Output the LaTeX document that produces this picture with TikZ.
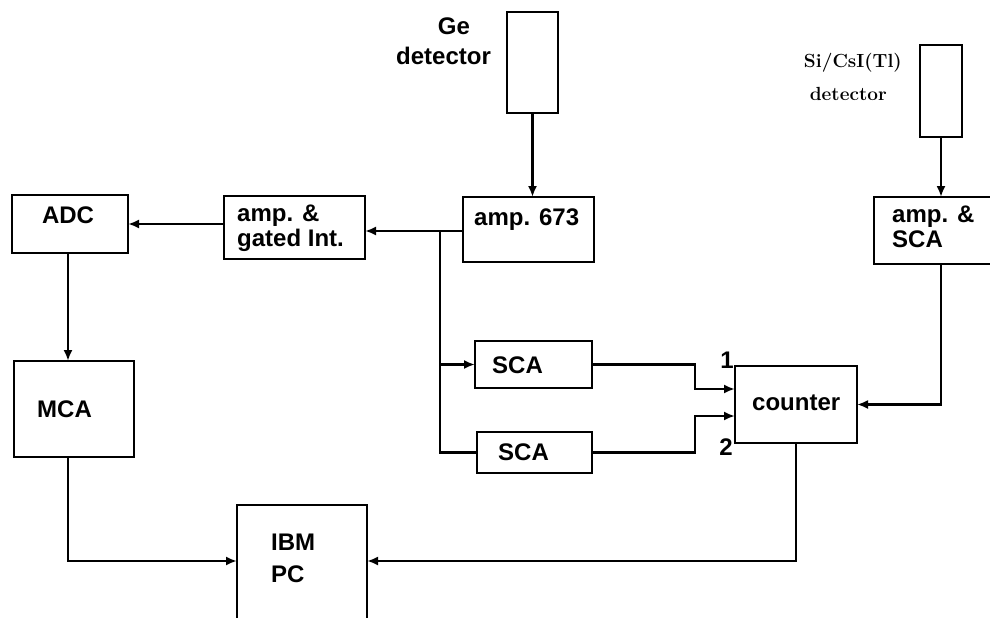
\documentclass[tikz,border=0pt]{standalone}
\usepackage{fontspec}
\newfontfamily\arialfont{Liberation Sans}
\usetikzlibrary{arrows.meta}
\tikzset{
  box/.style={draw, line width=2.2pt, inner sep=0pt, outer sep=0pt},
  arr/.style={line width=2.2pt, -{Latex[length=11pt,width=9pt]}},
  wire/.style={line width=2.2pt},
  lbl/.style={font=\arialfont\bfseries\fontsize{24}{26}\selectfont, inner sep=0pt},
  slbl/.style={font=\bfseries\fontsize{19}{22}\selectfont, inner sep=0pt}
}
\begin{document}
\begin{tikzpicture}[x=1pt,y=-1pt]
\useasboundingbox (0,0) rectangle (990,618);
% boxes
\node[box, minimum width=51pt, minimum height=101pt] (ge) at (532.5,62.5) {};
\node[box, minimum width=42pt, minimum height=92pt] (si) at (941,91) {};
\node[box, minimum width=131pt, minimum height=65pt] (amp673) at (528.5,229.5) {};
\node[box, minimum width=126pt, minimum height=67pt] (ampsca) at (937,230.5) {};
\node[box, minimum width=116pt, minimum height=58pt] (adc) at (70,224) {};
\node[box, minimum width=141pt, minimum height=63pt] (gated) at (294.5,227.5) {};
\node[box, minimum width=117pt, minimum height=47pt] (sca1) at (533.5,364.5) {};
\node[box, minimum width=115pt, minimum height=41pt] (sca2) at (534.5,452.5) {};
\node[box, minimum width=122pt, minimum height=77pt] (counter) at (796,404.5) {};
\node[box, minimum width=120pt, minimum height=96pt] (mca) at (74,409) {};
\node[box, minimum width=130pt, minimum height=135pt] (ibm) at (302,572.5) {};
% labels
\node[lbl, anchor=base] (geL1) at (454,35) {Ge};
\node[lbl, anchor=base] (geL2) at (443.5,65) {detector};
\node[slbl, anchor=base east] (siL1) at (902,67) {Si/CsI(Tl)};
\node[slbl, anchor=base east] (siL2) at (887,100) {detector};
\node[lbl, anchor=base] (adcL) at (68,223) {ADC};
\node[lbl, anchor=base west] (gL1) at (237,221) {amp. \&};
\node[lbl, anchor=base west] (gL2) at (237,246) {gated Int.};
\node[lbl, anchor=base west] (a673L) at (474,225) {amp. 673};
\node[lbl, anchor=base west] (asL1) at (892,222) {amp. \&};
\node[lbl, anchor=base west] (asL2) at (892,247) {SCA};
\node[lbl, anchor=base west] (s1L) at (492,373) {SCA};
\node[lbl, anchor=base west] (s2L) at (498,460) {SCA};
\node[lbl, anchor=base west] (cL) at (752,410) {counter};
\node[lbl, anchor=base west] (mL) at (37,417) {MCA};
\node[lbl, anchor=base west] (iL1) at (271,550) {IBM};
\node[lbl, anchor=base west] (iL2) at (271,582) {PC};
\node[lbl, anchor=base] (n1) at (727,368) {1};
\node[lbl, anchor=base] (n2) at (726,455) {2};
% connectors
\coordinate (br) at (440,231);
\coordinate (elb) at (695,0);
\coordinate (pcy) at (0,561);
\draw[arr] (ge.south) -- (ge.south |- amp673.north);
\draw[arr] (si.south) -- (si.south |- ampsca.north);
\draw[wire] (amp673.west |- br) -- (br);
\draw[arr] (br) -- (gated.east |- br);
\draw[wire] (br) |- (sca2.west);
\draw[arr] (br |- sca1.west) -- (sca1.west);
\draw[arr] (gated.west |- adc.east) -- (adc.east);
\draw[arr] ([xshift=-2pt]adc.south) -- ([xshift=-2pt]adc.south |- mca.north);
\draw[arr] ([xshift=-6pt]mca.south) |- (ibm.west |- pcy);
\draw[arr] (counter.south) |- (ibm.east |- pcy);
\draw[arr] (sca1.east) -- (sca1.east -| elb) |- ([yshift=15.5pt]counter.west);
\draw[arr] (sca2.east) -- (sca2.east -| elb) |- ([yshift=-11.5pt]counter.west);
\draw[arr] (si.south |- ampsca.south) |- (counter.east);
\end{tikzpicture}
\end{document}
